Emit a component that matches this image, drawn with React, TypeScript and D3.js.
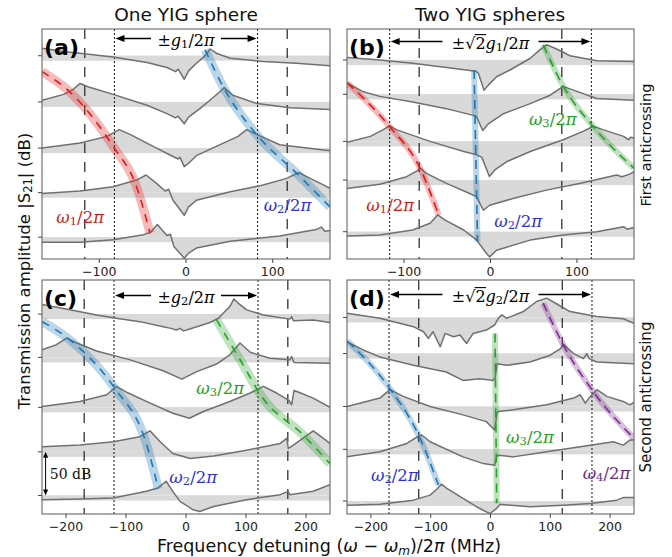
import React, { useLayoutEffect, useRef, useState } from 'react';
import * as d3 from 'd3';

type P = [number, number];

// ---------------- data ----------------
const xTicksNarrow = [-100, 0, 100];
const xTicksWide = [-200, -100, 0, 100, 200];

// Panel (a): one YIG sphere, first anticrossing. Traces: [MHz, dB relative to baseline]
const aBaselines = [242, 187, 132, 79, 26];
const aTrace1: P[] = [[-166,9],[-141,5],[-84,-1.5],[-45,-8],[-22,-14],[-12,-19],[-9,-16],[-2,-28],[3,-18],[12,-9],[20,-2],[28,8],[35,3],[51,-3],[89,-7],[127,-9],[166,-12]];
const aTrace2: P[] = [[-166,2],[-141,9],[-130,15],[-122,22],[-113,18],[-84,9],[-45,-4],[-22,-14],[-12,-19],[-9,-17],[-2,-26],[3,-18],[16,-8],[31,5],[40,13],[44,17],[54,8],[82,-2],[120,-7],[166,-9]];
const aTrace3: P[] = [[-166,0],[-122,6],[-91,14],[-77,22],[-64,16],[-34,0],[-15,-10],[-9,-13],[-7,-11],[-2,-22],[3,-18],[12,-9],[43,6],[60,14],[70,22],[82,16],[108,4],[166,-3]];
const aTrace4: P[] = [[-166,-1],[-122,2],[-84,7],[-57,15],[-46,21],[-34,11],[-24,2],[-20,4],[-15,-9],[-2,-27],[3,-17],[12,-9],[51,1],[89,9],[116,17],[130,24],[143,17],[159,9],[166,5]];
const aTrace5: P[] = [[-166,-6],[-122,-6],[-84,-3],[-49,3],[-41,5.5],[-33,15],[-28,9],[-22,2],[-18,3.5],[-14,-11],[-2,-25],[3,-19],[12,-13],[51,-5],[108,1.5],[150,9],[156,12],[160,7],[166,8]];
const aModeW1: P[] = [[-166,223],[-134,199],[-84,134],[-57,86],[-41.5,31]];
const aModeW2: P[] = [[22,249],[45,201],[81.5,148],[127.6,102],[166,62]];

// Panel (b): two YIG spheres, first anticrossing
const bBaselines = [237, 196, 140, 94, 32.5];
const bTrace1: P[] = [[-166,3],[-128,0],[-90,-4],[-51,-9],[-17,-13.5],[-14,-16],[-7.5,-36],[-2.5,-30],[7,-20],[22.6,-12],[46,2],[57,12],[65,18],[76.5,13],[92,5],[123,-1],[166,-2]];
const bTrace2: P[] = [[-166,13.5],[-147,3],[-128,-2.4],[-90,-9],[-51,-17],[-20,-25],[-16,-27],[-9,-43],[-2.5,-35],[15,-23],[46,-11],[69,-1],[80.6,7],[84,9.5],[96,5],[123,-5],[166,-7]];
const bTrace3: P[] = [[-166,-1],[-139,6],[-124,14],[-117,18.6],[-109,14],[-70,0],[-31,-12],[-16,-16],[-10,-19],[-1.3,-41.7],[5,-34],[19,-24],[46,-12],[84,2],[107,12],[119,18],[130,14],[154,6],[159.6,2],[162,5],[166,4]];
const bTrace4: P[] = [[-166,-10],[-128,-5],[-97,4],[-85,11],[-81,14],[-74,8],[-51,-4],[-24,-16],[-16,-20],[-8.3,-36],[-1,-30],[26,-22],[64.6,-12],[103,-4],[146,6],[152,4],[161,7],[166,10]];
const bTrace5: P[] = [[-166,-5],[-128,-4],[-90,2],[-70,10],[-61,20],[-53,14],[-31,2],[-16,-10],[-4.6,-26],[-1,-30],[7,-22],[46,-10],[84,-4],[123,0],[154,6],[158,3],[166,5]];
const bModeW1: P[] = [[-166,210],[-117,158],[-81.5,108],[-60,52.4]];
const bModeW2: P[] = [[-19,225],[-15,20.6]];
const bModeW3: P[] = [[61,255],[84,206],[119,157.5],[166,108]];

// Panel (c): one YIG sphere, second anticrossing
const cBaselines = [238, 186.5, 127, 74, 22];
const cTrace1: P[] = [[-240,11.5],[-204,6.7],[-149,-1],[-116,-5],[-77,-9],[-38,-15],[-25,-17],[-16,-19],[-10,-17],[-4,-20],[5,-18],[18,-15],[40,-10],[54,-5],[62,1],[73,9],[80,18],[87,13],[101,5],[129,-1],[173,-6],[176,-3],[179,-8],[212,-7],[240,-10]];
const cTrace2: P[] = [[-240,9],[-216,15],[-199,23],[-182,17],[-149,7.5],[-93,-3],[-38,-16],[-7,-26],[18,-17],[51,-8],[73,3],[90,17],[107,6],[140,-1],[173,-3],[176,1],[180,-6],[240,-7]];
const cTrace3: P[] = [[-240,1],[-177,7],[-132,15],[-116,25],[-99,18],[-66,7],[-22,-7],[5.6,-13],[29,-5],[73,7],[107,17],[129,25],[151,17],[172,8],[176,3],[180,20],[188,18],[212,11],[240,0]];
const cTrace4: P[] = [[-240,6],[-177,8],[-121,12],[-77,18],[-60,25],[-43,12],[-22,-2],[7,-8],[46,-5],[101,2],[157,10],[168,16],[170.5,4],[179,8],[212,25],[229,16],[240,10]];
const cTrace5: P[] = [[-240,-5],[-177,-4],[-121,-3],[-66,5],[-47,9],[-33,17],[-22,5],[-10,-7],[12,-17],[23,-19],[46,-13],[101,-5],[157,1],[170,5],[173,1],[212,5],[240,13]];
const cModeW2: P[] = [[-239.5,229],[-193,207],[-118,149],[-68,88],[-46,30]];
const cModeW3: P[] = [[51,231],[95.5,177],[126,140],[195.5,94],[240,60]];

// Panel (d): two YIG spheres, second anticrossing
const dBaselines = [234, 191, 128, 77, 15.5];
const dTrace1: P[] = [[-240,5],[-185,-1],[-129,-11],[-112,-17],[-104,-25],[-96,-17],[-84,-35],[-76,-19],[-62,-23],[-51,-21],[-40,-31],[-29,-19],[-7,-15],[7,-9],[13,-1],[19,3],[27,-1],[55,7],[77,19],[94,23],[111,16],[133,7],[178,1],[222,-1.6],[240,-7]];
const dTrace2: P[] = [[-240,14],[-212,4],[-185,-4],[-129,-14],[-74,-22],[-46,-32],[-18,-30],[4.5,-32],[8,-28],[11,-12],[27,-14],[66,-10],[100,-2],[117,6],[122,11],[139,0],[155.5,-6],[161,0],[165,-6],[178,-10],[240,-12]];
const dTrace3: P[] = [[-240,0],[-185,10],[-168,20],[-146,12],[-101,0],[-46,-10],[-7,-18],[7,-28],[11,-8],[13,-6],[38,-4],[94,2],[139,10],[150,14],[158.6,4],[167,12],[178,20],[194.5,12],[222,6],[233,2],[240,5]];
const dTrace4: P[] = [[-240,-9],[-185,-3],[-140,7],[-122,15],[-115,17],[-101,9],[-46,-9],[-12,-17],[7,-19],[10,-9],[13,-7],[38,-9],[94,-3],[150,3],[205.5,9],[222,5],[233,11],[240,11]];
const dTrace5: P[] = [[-240,-5],[-185,-4],[-129,1],[-101,7],[-90,14],[-82,20],[-73,15],[-46,3],[-18,-9],[-1,-15],[10,-9],[16,-4],[66,-7],[122,-5],[167,-3],[211,1],[222,4],[240,4]];
const dModeW2: P[] = [[-239.5,206],[-168,149],[-119,92],[-87,34.5]];
const dModeW3: P[] = [[7.5,215],[10.4,12.7]];
const dModeW4: P[] = [[88,251],[122,201],[172,145.6],[240,90]];

// coupling strengths (MHz)
const g1 = 82.5;
const g2 = 120;

// ---------------- style ----------------
const K = 0.84; // px per dB
const RED = '#e31a1c', BLUE = '#1f77b4', GREEN = '#2ca02c', PURPLE = '#7d2c92';
const RED_T = '#d11a1a', BLUE_T = '#2f2fe0', GREEN_T = '#23a023', PURPLE_T = '#6a2a86';
const TRACE = '#707070', FILL = '#d9d9d9';
const MATH = 'DejaVu Serif';

type Mode = { pts: P[]; color: string };
type Lbl = { x: number; y: number; sym: string; sub: string; color: string };
type Panel = {
  id: string; letter: string; left: number; right: number; top: number; bottom: number;
  xDom: [number, number]; ticks: number[]; baselines: number[]; traces: P[][];
  modes: Mode[]; dotted: number; dashed: number; sqrt: boolean; gsub: string;
  arrowY: number; gap: number; bandW: number; dash: string; labels: Lbl[]; scaleBar?: boolean;
};

const PANELS: Panel[] = [
  { id: 'a', letter: '(a)', left: 42, right: 330, top: 29, bottom: 259, xDom: [-166, 166], ticks: xTicksNarrow,
    baselines: aBaselines, traces: [aTrace1, aTrace2, aTrace3, aTrace4, aTrace5],
    modes: [{ pts: aModeW1, color: RED }, { pts: aModeW2, color: BLUE }],
    dotted: g1, dashed: g1 * Math.SQRT2, sqrt: false, gsub: '1', arrowY: 38.5, gap: 35, bandW: 9, dash: '8,7',
    labels: [{ x: -122, y: 50, sym: 'ω', sub: '1', color: RED_T }, { x: 117, y: 64, sym: 'ω', sub: '2', color: BLUE_T }] },
  { id: 'b', letter: '(b)', left: 347, right: 634, top: 29, bottom: 259, xDom: [-166, 166], ticks: xTicksNarrow,
    baselines: bBaselines, traces: [bTrace1, bTrace2, bTrace3, bTrace4, bTrace5],
    modes: [{ pts: bModeW1, color: RED }, { pts: bModeW2, color: BLUE }, { pts: bModeW3, color: GREEN }],
    dotted: g1 * Math.SQRT2, dashed: g1, sqrt: true, gsub: '1', arrowY: 41.5, gap: 48, bandW: 6, dash: '9,6',
    labels: [{ x: -116, y: 64, sym: 'ω', sub: '1', color: RED_T }, { x: 32, y: 45, sym: 'ω', sub: '2', color: BLUE_T }, { x: 72, y: 167, sym: 'ω', sub: '3', color: GREEN_T }] },
  { id: 'c', letter: '(c)', left: 42, right: 330, top: 280, bottom: 514, xDom: [-240, 240], ticks: xTicksWide,
    baselines: cBaselines, traces: [cTrace1, cTrace2, cTrace3, cTrace4, cTrace5],
    modes: [{ pts: cModeW2, color: BLUE }, { pts: cModeW3, color: GREEN }],
    dotted: g2, dashed: g2 * Math.SQRT2, sqrt: false, gsub: '2', arrowY: 295.5, gap: 35, bandW: 9, dash: '8,7',
    labels: [{ x: 57, y: 150, sym: 'ω', sub: '3', color: GREEN_T }, { x: 12, y: 44, sym: 'ω', sub: '2', color: BLUE_T }], scaleBar: true },
  { id: 'd', letter: '(d)', left: 347, right: 634, top: 280, bottom: 514, xDom: [-240, 240], ticks: xTicksWide,
    baselines: dBaselines, traces: [dTrace1, dTrace2, dTrace3, dTrace4, dTrace5],
    modes: [{ pts: dModeW2, color: BLUE }, { pts: dModeW3, color: GREEN }, { pts: dModeW4, color: PURPLE }],
    dotted: g2 * Math.SQRT2, dashed: g2, sqrt: true, gsub: '2', arrowY: 294.5, gap: 48, bandW: 6, dash: '9,6',
    labels: [{ x: -160, y: 46, sym: 'ω', sub: '2', color: BLUE_T }, { x: 66, y: 92, sym: 'ω', sub: '3', color: GREEN_T }, { x: 194, y: 49, sym: 'ω', sub: '4', color: PURPLE_T }] },
];

const LBL_FS = 16.5;

function MathLabel({ x, y, sym, sub, color }: { x: number; y: number; sym: string; sub: string; color: string }) {
  return (
    <text x={x} y={y} fill={color} fontFamily={MATH} fontSize={LBL_FS} textAnchor="middle" dominantBaseline="central">
      <tspan fontStyle="italic">{sym}</tspan>
      <tspan dy={4} fontSize={11.5}>{sub}</tspan>
      <tspan dy={-4}>/2</tspan>
      <tspan fontStyle="italic">π</tspan>
    </text>
  );
}

function CouplingText({ x, y, sqrt, sub }: { x: number; y: number; sqrt: boolean; sub: string }) {
  const twoRef = useRef<SVGTSpanElement | null>(null);
  const rootRef = useRef<SVGTSpanElement | null>(null);
  const [bar, setBar] = useState<null | { x1: number; x2: number; y: number }>(null);
  useLayoutEffect(() => {
    if (!sqrt || !twoRef.current || !rootRef.current) return;
    try {
      const b2 = (twoRef.current as any).getBBox();
      const br = (rootRef.current as any).getBBox();
      setBar({ x1: br.x + br.width - 1.5, x2: b2.x + b2.width + 0.5, y: br.y + 1.6 });
    } catch (e) { /* ignore */ }
  }, [sqrt, x, y]);
  return (
    <g>
      <text x={x} y={y} textAnchor="middle" dominantBaseline="central" fontFamily={MATH} fontSize={16} fill="#000">
        <tspan>±</tspan>
        {sqrt ? <tspan ref={rootRef}>√</tspan> : null}
        {sqrt ? <tspan ref={twoRef}>2</tspan> : null}
        <tspan fontStyle="italic">g</tspan>
        <tspan dy={4} fontSize={11.5}>{sub}</tspan>
        <tspan dy={-4}>/2</tspan>
        <tspan fontStyle="italic">π</tspan>
      </text>
      {bar ? <line x1={bar.x1} x2={bar.x2} y1={bar.y} y2={bar.y} stroke="#000" strokeWidth={1.1} /> : null}
    </g>
  );
}

function Arrow({ x1, x2, y }: { x1: number; x2: number; y: number }) {
  const dir = Math.sign(x2 - x1);
  const hl = 9, hw = 3.6;
  return (
    <g>
      <line x1={x1} y1={y} x2={x2 - dir * hl * 0.8} y2={y} stroke="#000" strokeWidth={1.5} />
      <polygon points={`${x2},${y} ${x2 - dir * hl},${y - hw} ${x2 - dir * hl},${y + hw}`} fill="#000" />
    </g>
  );
}

function PanelView({ p }: { p: Panel }) {
  const x = d3.scaleLinear().domain(p.xDom).range([p.left, p.right]);
  const y = d3.scaleLinear().domain([0, (p.bottom - p.top) / K]).range([p.bottom, p.top]);
  const clip = 'clip-' + p.id;
  const modeLine = d3.line<P>().x(d => x(d[0])).y(d => y(d[1])).curve(d3.curveMonotoneX);
  const cx = x(0);
  const ymid = p.arrowY;
  return (
    <g>
      <defs>
        <clipPath id={clip}>
          <rect x={p.left} y={p.top} width={p.right - p.left} height={p.bottom - p.top} />
        </clipPath>
      </defs>
      <g clipPath={`url(#${clip})`}>
        {p.baselines.map((b, i) => (
          <rect key={'band' + i} x={p.left} width={p.right - p.left} y={y(b)} height={y(b - 6) - y(b)} fill={FILL} />
        ))}
        {p.traces.map((t, i) => {
          const b = p.baselines[i];
          const area = d3.area<P>().x(d => x(d[0])).y0(y(b)).y1(d => y(b + d[1]));
          return <path key={'fill' + i} d={area(t) || ''} fill={FILL} />;
        })}
        {[-1, 1].map(s => (
          <line key={'dot' + s} x1={x(s * p.dotted)} x2={x(s * p.dotted)} y1={p.top} y2={p.bottom} stroke="#111" strokeWidth={1} strokeDasharray="2,2" />
        ))}
        {[-1, 1].map(s => (
          <line key={'dash' + s} x1={x(s * p.dashed)} x2={x(s * p.dashed)} y1={p.top} y2={p.bottom} stroke="#222" strokeWidth={1.2} strokeDasharray="10,9" />
        ))}
        {p.traces.map((t, i) => {
          const b = p.baselines[i];
          const ln = d3.line<P>().x(d => x(d[0])).y(d => y(b + d[1]));
          return <path key={'tr' + i} d={ln(t) || ''} fill="none" stroke={TRACE} strokeWidth={1.5} strokeLinejoin="round" />;
        })}
        {p.modes.map((m, i) => (
          <path key={'mb' + i} d={modeLine(m.pts) || ''} fill="none" stroke={m.color} strokeOpacity={0.3} strokeWidth={p.bandW} />
        ))}
        {p.modes.map((m, i) => (
          <path key={'md' + i} d={modeLine(m.pts) || ''} fill="none" stroke={m.color} strokeWidth={1.6} strokeDasharray={p.dash} />
        ))}
      </g>
      <rect x={p.left} y={p.top} width={p.right - p.left} height={p.bottom - p.top} fill="none" stroke="#666" strokeWidth={1.1} />
      {p.baselines.map((b, i) => (
        <line key={'yt' + i} x1={p.left - 4} x2={p.left} y1={y(b)} y2={y(b)} stroke="#444" strokeWidth={1} />
      ))}
      {p.ticks.map(t => (
        <g key={'xt' + t}>
          <line x1={x(t)} x2={x(t)} y1={p.bottom} y2={p.bottom + 4} stroke="#444" strokeWidth={1} />
          <text x={x(t)} y={p.bottom + 16.5} textAnchor="middle" fontSize={12.5} fill="#222" fontFamily="DejaVu Sans">
            {t < 0 ? '\u2212' + Math.abs(t) : String(t)}
          </text>
        </g>
      ))}
      <text x={p.left + 2} y={p.top + 26} fontSize={22} fontWeight="bold" fontFamily="DejaVu Sans" fill="#000">{p.letter}</text>
      <Arrow x1={cx - p.gap} x2={x(-p.dotted) + 1} y={ymid} />
      <Arrow x1={cx + p.gap} x2={x(p.dotted) - 1} y={ymid} />
      <CouplingText x={cx} y={ymid + 1} sqrt={p.sqrt} sub={p.gsub} />
      {p.labels.map((l, i) => (
        <MathLabel key={'lb' + i} x={x(l.x)} y={y(l.y)} sym={l.sym} sub={l.sub} color={l.color} />
      ))}
      {p.scaleBar ? (
        <g>
          <line x1={x(-234)} x2={x(-234)} y1={y(p.baselines[4]) - 5} y2={y(p.baselines[3]) + 5} stroke="#000" strokeWidth={1} />
          <polygon points={`${x(-234)},${y(p.baselines[4])} ${x(-234) - 2.5},${y(p.baselines[4]) - 6} ${x(-234) + 2.5},${y(p.baselines[4]) - 6}`} fill="#000" />
          <polygon points={`${x(-234)},${y(p.baselines[3])} ${x(-234) - 2.5},${y(p.baselines[3]) + 6} ${x(-234) + 2.5},${y(p.baselines[3]) + 6}`} fill="#000" />
          <text x={x(-227)} y={y((p.baselines[3] + p.baselines[4]) / 2)} dominantBaseline="central" fontFamily={MATH} fontSize={14} fill="#111">50 dB</text>
        </g>
      ) : null}
    </g>
  );
}

export default function App() {
  return (
    <svg width={672} height={557} style={{ position: 'absolute', left: 0, top: 0, background: '#fff' }} fontFamily="DejaVu Sans">
      <rect width={672} height={557} fill="#fff" />
      {PANELS.map(p => <PanelView key={p.id} p={p} />)}
      <text x={186} y={21} textAnchor="middle" fontSize={18.5} fill="#111">One YIG sphere</text>
      <text x={490} y={21} textAnchor="middle" fontSize={18.5} fill="#111">Two YIG spheres</text>
      <text transform="translate(24,271) rotate(-90)" textAnchor="middle" dominantBaseline="central" fontSize={16.5} fill="#111">
        Transmission amplitude |S<tspan dy={4} fontSize={11.5}>21</tspan><tspan dy={-4}>| (dB)</tspan>
      </text>
      <text transform="translate(646,145) rotate(-90)" textAnchor="middle" dominantBaseline="central" fontSize={14.5} fill="#111">First anticrossing</text>
      <text transform="translate(646,397) rotate(-90)" textAnchor="middle" dominantBaseline="central" fontSize={15} fill="#111">Second anticrossing</text>
      <text x={329} y={552} textAnchor="middle" fontSize={17.5} fill="#111">
        Frequency detuning (<tspan fontStyle="italic">ω</tspan> − <tspan fontStyle="italic">ω</tspan><tspan dy={2.5} fontSize={12} fontStyle="italic">m</tspan><tspan dy={-2.5}>)/2</tspan><tspan fontStyle="italic">π</tspan> (MHz)
      </text>
    </svg>
  );
}
